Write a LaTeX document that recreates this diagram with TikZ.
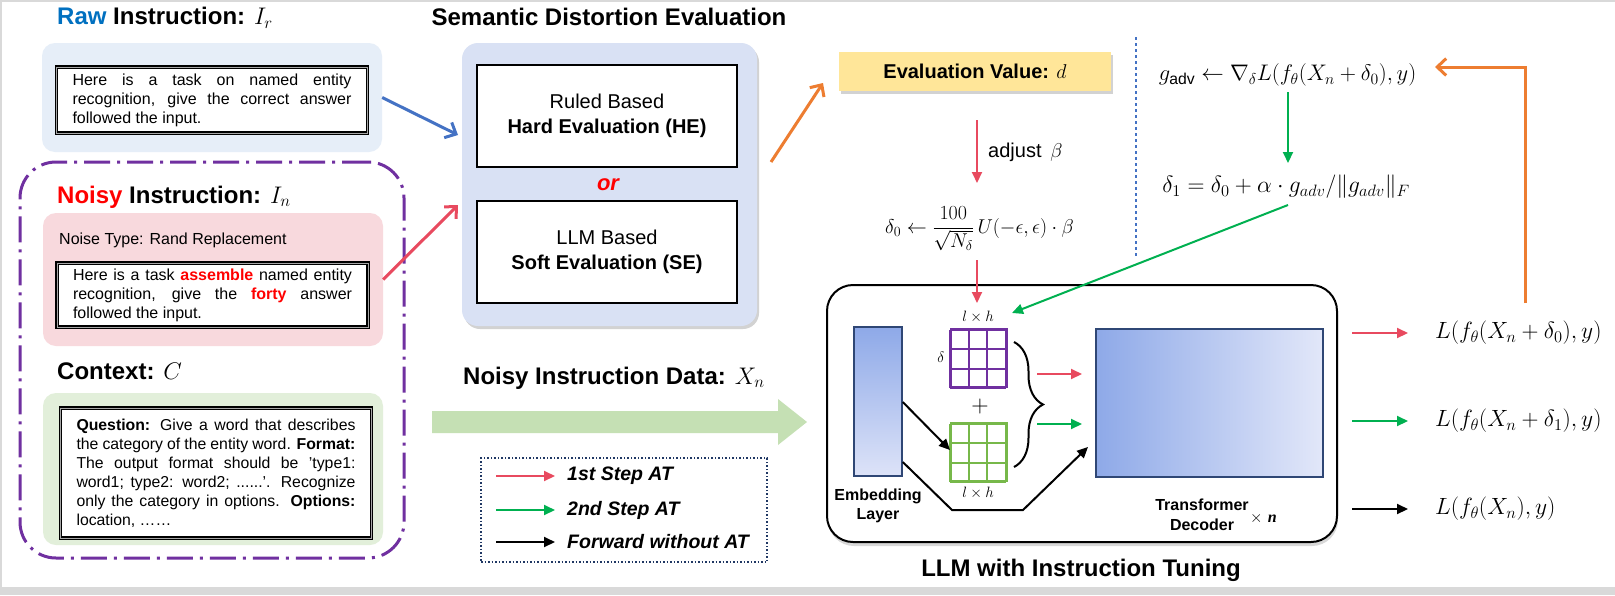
\documentclass[tikz,border=0pt]{standalone}
\usepackage{fix-cm}
\usepackage{fontspec}
\setmainfont{Liberation Sans}
\newfontfamily\serifit{Liberation Serif}
\usetikzlibrary{arrows.meta,shadows,decorations.pathreplacing,calc}
\definecolor{rawblue}{HTML}{0070C0}
\definecolor{rawbg}{HTML}{E6EEF8}
\definecolor{pinkbg}{HTML}{F8D9DD}
\definecolor{ctxbg}{HTML}{E2EFDA}
\definecolor{sdebg}{HTML}{D9E1F4}
\definecolor{purp}{HTML}{7030A0}
\definecolor{redA}{HTML}{E84A5F}
\definecolor{greenA}{HTML}{00B050}
\definecolor{orangeA}{HTML}{ED7D31}
\definecolor{blueA}{HTML}{4472C4}
\definecolor{evalY}{HTML}{FFE699}
\definecolor{bigG}{HTML}{C5E0B4}
\definecolor{navy}{HTML}{203864}
\definecolor{gridG}{HTML}{77B84A}
\definecolor{embTop}{HTML}{8EA9E8}
\definecolor{embBot}{HTML}{DDE3F8}
\definecolor{boxNavy}{HTML}{2F4775}
\tikzset{
  ttl/.style={font=\bfseries\fontsize{24}{28}\selectfont, inner sep=0pt},
  bgbox/.style={rounded corners=13pt, inner sep=0pt},
  txtbox/.style={draw=black, line width=1.2pt, double=gray!70, double distance=0.8pt, fill=white,
    text width=279pt, align=justify, font=\fontsize{16}{19}\selectfont, inner xsep=16pt, inner ysep=0pt},
  evbox/.style={draw=black, line width=2.5pt, fill=white, minimum width=260pt, minimum height=102pt,
    align=center, font=\fontsize{20}{25}\selectfont},
  tri/.style={-{Triangle[length=11pt,width=10pt]}},
  barb/.style={-{Straight Barb[length=9pt,width=17pt]}},
  lgd/.style={font=\bfseries\itshape\fontsize{19.5}{22}\selectfont, inner sep=0pt, anchor=west},
  outf/.style={font=\fontsize{23.5}{26}\selectfont, inner sep=0pt, anchor=west},
  lblmath/.style={font=\fontsize{15}{18}\selectfont, inner sep=0pt},
}
\begin{document}
\begin{tikzpicture}[x=1pt,y=1pt]
\useasboundingbox (0,0) rectangle (1615,-595);
\fill[gray!30] (0,0) rectangle (1615,-595);
\fill[white] (2,-2) rectangle (1615,-587);

% ---------- left column ----------
\node[ttl, anchor=west] (rawt) at (57,-18) {\textcolor{rawblue}{Raw} Instruction: $\mathnormal{I_r}$};
\node[bgbox, fill=rawbg, minimum width=340pt, minimum height=109pt] (rawbg) at (212,-97.5) {};
\node[txtbox, minimum height=66pt] (rawtxt) at (212,-100)
  {Here is a task on named entity\linebreak recognition, give the correct answer\linebreak followed the input.};

\node[draw=purp, line width=3pt, dash pattern=on 26pt off 7pt on 3pt off 7pt, rounded corners=36pt,
  minimum width=384pt, minimum height=396pt, inner sep=0pt] (noisyframe) at (212,-360) {};

\node[ttl, anchor=west] (noisyt) at (57,-197) {\textcolor{red}{Noisy} Instruction: $I_n$};
\node[bgbox, fill=pinkbg, minimum width=340pt, minimum height=133pt] (pinkbg) at (213,-279.5) {};
\node[anchor=west, inner sep=0pt, font=\fontsize{16}{19}\selectfont] (ntype) at (59,-240) {Noise Type: Rand Replacement};
\node[txtbox, minimum height=64pt] (noisytxt) at (212.5,-295)
  {Here is a task \textcolor{red}{\textbf{assemble}} named entity\linebreak recognition, give the \textcolor{red}{\textbf{forty}} answer\linebreak followed the input.};

\node[ttl, anchor=west] (ctxt) at (57,-371) {Context: $C$};
\node[bgbox, fill=ctxbg, minimum width=340pt, minimum height=152pt] (ctxbg) at (213,-469) {};
\node[txtbox, minimum height=130pt, font=\fontsize{15.8}{19}\selectfont] (ctxtxt) at (216,-473)
  {\textbf{Question:} Give a word that describes\linebreak the category of the entity word. \textbf{Format:}\linebreak The output format should be 'type1:\linebreak word1; type2: word2; ......'. Recognize\linebreak only the category in options. \textbf{Options:}\linebreak location, ……};

% ---------- semantic distortion evaluation ----------
\node[ttl] (sdet) at (609,-17) {Semantic Distortion Evaluation};
\node[bgbox, rounded corners=16pt, fill=sdebg, minimum width=295pt, minimum height=283pt,
  drop shadow={shadow xshift=2pt, shadow yshift=-3pt, opacity=0.35}] (sde) at (609.5,-184.5) {};
\node[evbox] (he) at (607,-116) {Ruled Based\\\textbf{Hard Evaluation (HE)}};
\node[font=\bfseries\itshape\fontsize{22}{24}\selectfont, text=red, inner sep=0pt] (or) at (608,-185) {or};
\node[evbox] (se) at (607,-252) {LLM Based\\\textbf{Soft Evaluation (SE)}};

\coordinate (sdeinA) at (458,-135);
\coordinate (sdeinB) at (458,-205);
\draw[blueA, line width=3pt, barb] (rawbg.east) -- (sdeinA);
\draw[redA, line width=3pt, barb] (pinkbg.east) -- (sdeinB);

% ---------- evaluation value ----------
\node[fill=evalY, minimum width=272pt, minimum height=39pt, inner sep=0pt,
  font=\bfseries\fontsize{20}{24}\selectfont,
  drop shadow={shadow xshift=1.5pt, shadow yshift=-3pt, opacity=0.35}] (eval) at (975,-71.5) {Evaluation Value: $d$};
\coordinate (orgA) at (771,-162);
\coordinate (orgB) at (823,-83);
\draw[orangeA, line width=3pt, barb] (orgA) -- (orgB);

\coordinate (adjA) at (977,-120);
\coordinate (adjB) at (977,-183);
\draw[redA, line width=2pt, tri] (adjA) -- (adjB);
\node[anchor=west, inner sep=0pt, font=\fontsize{20}{24}\selectfont] (adj) at (988,-152) {adjust \,$\beta$};

\node[inner sep=0pt, font=\fontsize{20}{24}\selectfont] (d0) at (979.5,-229)
  {$\displaystyle \delta_0 \leftarrow \frac{100}{\sqrt{N_\delta}}\,U(-\epsilon,\epsilon)\cdot\beta$};

% dashed separator
\coordinate (sepA) at (1136,-37);
\coordinate (sepB) at (1136,-257);
\draw[blueA, line width=1.5pt, dashed] (sepA) -- (sepB);

\node[inner sep=0pt, font=\fontsize{22.5}{26}\selectfont] (gadv) at (1287.5,-75)
  {$g_{\mathrm{adv}} \leftarrow \nabla_{\delta} L(f_\theta(X_n+\delta_0),y)$};
\node[inner sep=0pt, font=\fontsize{23.5}{26}\selectfont] (d1) at (1286,-187)
  {$\delta_1 = \delta_0 + \alpha\cdot g_{adv}/\|g_{adv}\|_F$};
\coordinate (gA) at (1288,-92);
\coordinate (gB) at (1288,-163);
\draw[greenA, line width=2pt, tri] (gA) -- (gB);

% ---------- LLM box ----------
\node[draw=black, line width=2pt, rounded corners=26pt, fill=white, minimum width=510pt, minimum height=257pt,
  drop shadow={shadow xshift=1pt, shadow yshift=-4pt, opacity=0.3}] (llm) at (1082,-413.5) {};
\node[draw=boxNavy, line width=1.5pt, top color=embTop, bottom color=embBot, minimum width=48pt, minimum height=149pt, inner sep=0pt] (emb) at (878,-401.5) {};
\node[align=center, font=\bfseries\fontsize{16}{19.5}\selectfont, inner sep=0pt] (embl) at (878,-506) {Embedding\\Layer};

\node[draw=purp, line width=2pt, minimum width=56pt, minimum height=58pt, inner sep=0pt] (gridP) at (979,-358) {};
\draw[purp, line width=2pt, shift={(gridP.south west)}] (0,0) grid[xstep=18.667pt, ystep=19.333pt] (56,58);
\node[draw=gridG, line width=2pt, minimum width=56pt, minimum height=58pt, inner sep=0pt] (gridG) at (979,-452) {};
\draw[gridG, line width=2pt, shift={(gridG.south west)}] (0,0) grid[xstep=18.667pt, ystep=19.333pt] (56,58);
\node[lblmath] (lhA) at (978,-317) {$l\times h$};
\node[lblmath] (lhB) at (978,-493) {$l\times h$};
\node[lblmath] (dl) at (941,-357) {$\delta$};
\node[font=\fontsize{24}{24}\selectfont, inner sep=0pt] (plus) at (980,-406) {$+$};
\coordinate (brA) at (1014,-342);
\coordinate (brB) at (1014,-467);
\draw[line width=2pt, decorate, decoration={brace, amplitude=29pt}] (brA) -- (brB);

\node[draw=boxNavy, line width=1.5pt, left color=embTop, right color=embBot!85!white, minimum width=227pt, minimum height=148pt, inner sep=0pt] (tf) at (1209.5,-403) {};
\node[align=center, font=\bfseries\fontsize{16}{20}\selectfont, inner sep=0pt] (tfl) at (1202,-515) {Transformer\\Decoder};
\node[inner sep=0pt, anchor=west, font=\fontsize{16}{20}\selectfont] (xn) at (1250,-518) {$\times$\,\,{\serifit\bfseries\itshape n}};

\coordinate (rA) at (1037,-374);
\coordinate (rB) at (1082,-374);
\coordinate (grA) at (1037,-424);
\coordinate (grB) at (1082,-424);
\draw[redA, line width=2pt, tri] (rA) -- (rB);
\draw[greenA, line width=2pt, tri] (grA) -- (grB);
\draw[line width=2pt, tri] (emb.east |- 0,-402) -- (gridG.west |- 0,-450);
\coordinate (bk1) at (952,-510);
\coordinate (bk2) at (1023,-510);
\coordinate (bk3) at (1088,-447);
\draw[line width=2pt, tri] (emb.east |- 0,-462) -- (bk1) -- (bk2) -- (bk3);

% red into grid, green from delta1
\coordinate (d0b) at (977,-260);
\coordinate (gridtop) at (977,-303);
\draw[redA, line width=2pt, tri] (d0b) -- (gridtop);
\coordinate (d1b) at (1288,-205);
\coordinate (gridin) at (1012,-313);
\draw[greenA, line width=2pt, tri] (d1b) -- (gridin);

\node[font=\bfseries\fontsize{24}{28}\selectfont, inner sep=0pt] (llmt) at (1081,-570) {LLM with Instruction Tuning};

% ---------- outputs ----------
\node[outf] (L1) at (1435,-333) {$L(f_\theta(X_n+\delta_0),y)$};
\node[outf] (L2) at (1435,-421) {$L(f_\theta(X_n+\delta_1),y)$};
\node[outf] (L3) at (1435,-509) {$L(f_\theta(X_n),y)$};
\coordinate (o1a) at (1352,-333);
\coordinate (o2a) at (1352,-421);
\coordinate (o3a) at (1352,-509);
\draw[redA, line width=2pt, tri] (o1a) -- (L1.west -| 1408,0);
\draw[greenA, line width=2pt, tri] (o2a) -- (L2.west -| 1408,0);
\draw[line width=2pt, tri] (o3a) -- (L3.west -| 1408,0);

\coordinate (orgC) at (1525,-303);
\coordinate (orgD) at (1525,-67);
\coordinate (orgE) at (1435,-67);
\draw[orangeA, line width=3pt, barb] (orgC) -- (orgD) -- (orgE);

% ---------- big green arrow ----------
\node[ttl, anchor=west] (xdata) at (463,-378) {Noisy Instruction Data: $X_n$};
\fill[bigG] (432,-411) -- (778,-411) -- (778,-399) -- (807,-422) -- (778,-445) -- (778,-433) -- (432,-433) -- cycle;

% ---------- legend ----------
\node[draw=navy, line width=1.5pt, dotted, minimum width=286pt, minimum height=104pt, inner sep=0pt] (lg) at (624,-510) {};
\node[lgd] (lg1) at (567,-476) {1st Step AT};
\node[lgd] (lg2) at (567,-510) {2nd Step AT};
\node[lgd] (lg3) at (567,-542) {Forward without AT};
\coordinate (la1) at (496,-476);
\coordinate (la2) at (496,-510);
\coordinate (la3) at (496,-542);
\draw[redA, line width=2pt, tri] (la1) -- (lg1.west -| 555,0);
\draw[greenA, line width=2pt, tri] (la2) -- (lg2.west -| 555,0);
\draw[line width=2pt, tri] (la3) -- (lg3.west -| 555,0);
\end{tikzpicture}
\end{document}
